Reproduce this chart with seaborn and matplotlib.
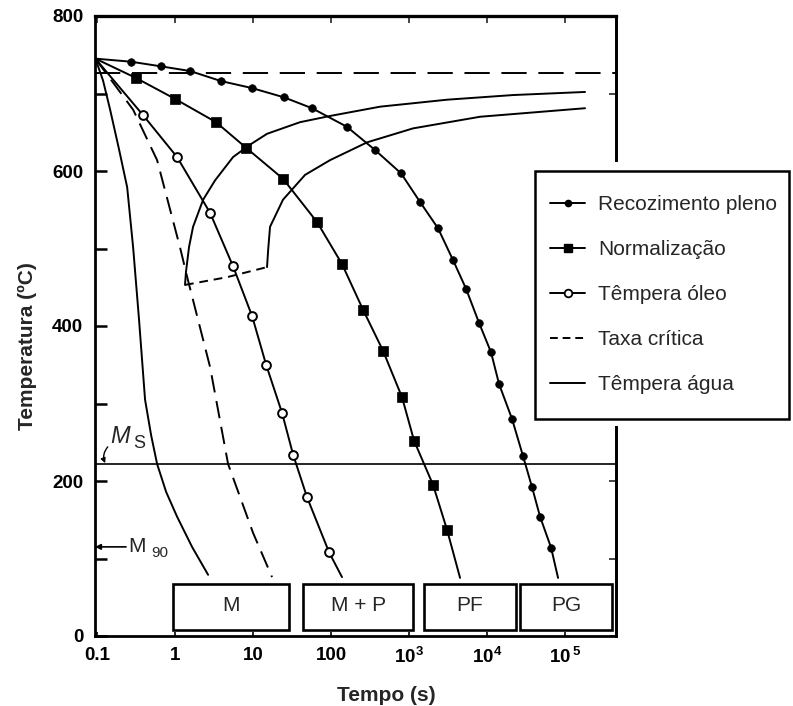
import matplotlib
matplotlib.use("Agg")
import matplotlib.pyplot as plt
import seaborn as sns
from matplotlib.lines import Line2D
from matplotlib.patches import Rectangle

# ---------------- data ----------------
# common austenitising point where every cooling curve begins
t_start = 0.095
T_start = 745

# full annealing (filled circles)
recoz_t = [0.273, 0.662, 1.56, 3.89, 9.7, 25, 57, 160, 367, 789, 1384, 2354, 3664,
           5380, 7894, 11250, 14260, 20920, 28950, 37750, 47800, 66200]
recoz_T = [741, 735, 729, 716, 707, 695, 681, 657, 627, 597, 560, 526, 485,
           448, 404, 366, 325, 280, 232, 192, 154, 114]
recoz_end = (81300, 75)

# normalising (filled squares)
norm_t = [0.316, 1.0, 3.35, 8.13, 24.2, 66.2, 138, 257, 464, 813, 1159, 2031, 3069]
norm_T = [720, 693, 663, 630, 590, 534, 480, 421, 368, 308, 252, 195, 137]
norm_end = (4505, 75)

# oil quench (open circles)
oleo_t = [0.389, 1.06, 2.81, 5.54, 9.7, 14.7, 23.5, 32.6, 49.2, 94.3]
oleo_T = [672, 618, 546, 477, 413, 350, 288, 234, 179, 108]
oleo_end = (138, 76)

# critical cooling rate (dashed)
crit_t = [0.290, 0.588, 1.16, 1.43, 2.81, 4.78, 10, 17.5]
crit_T = [679, 614, 501, 463, 347, 222, 133, 76]

# water quench (solid)
agua_t = [0.119, 0.147, 0.192, 0.243, 0.290, 0.345, 0.412, 0.493, 0.588, 0.767,
          1.06, 1.65, 2.65]
agua_T = [717, 679, 627, 579, 501, 408, 305, 259, 222, 186, 154, 115, 79]

# transformation start / finish curves and the lower dashed bound
cstart_t = [1.34, 1.38, 1.51, 1.70, 2.29, 3.26, 5.54, 9.15, 15.1, 40, 97, 425, 3069, 21500, 180400]
cstart_T = [453, 470, 502, 528, 563, 588, 618, 634, 648, 663, 671, 683, 692, 698, 702]
cend_t = [15.1, 15.6, 16.5, 24.2, 46.4, 97, 290, 1125, 8130, 180400]
cend_T = [476, 498, 528, 563, 595, 614, 637, 655, 670, 681]
cbot_t = [1.34, 4.64, 15.1]
cbot_T = [453, 463, 476]

# reference temperatures
T_A1 = 727
T_Ms = 222
T_M90 = 115

# microstructure boxes
box_labels = ["M", "M + P", "PF", "PG"]
box_left = [0.94, 43.8, 1556, 26500]
box_right = [29, 1125, 23540, 401000]
box_bottom = 8
box_top = 67

legend_labels = ["Recozimento pleno", "Normalização", "Têmpera óleo",
                 "Taxa crítica", "Têmpera água"]

x_ticks = [0.1, 1, 10, 100, 1e3, 1e4, 1e5]
x_ticklabels = ["0.1", "1", "10", "100", r"$\mathbf{10^{3}}$",
                r"$\mathbf{10^{4}}$", r"$\mathbf{10\,^{5}}$"]
y_major = [0, 200, 400, 600, 800]
y_minor = [100, 300, 500, 700]

# ---------------- style ----------------
sns.set_theme(style="white")
plt.rcParams["font.family"] = ["Liberation Sans", "DejaVu Sans"]
plt.rcParams["mathtext.fontset"] = "custom"
plt.rcParams["mathtext.rm"] = "Liberation Sans"
plt.rcParams["mathtext.it"] = "Liberation Sans:italic"
plt.rcParams["mathtext.bf"] = "Liberation Sans:bold"

W, H = 793, 706
fig = plt.figure(figsize=(W / 100, H / 100), dpi=100)
ax = fig.add_axes([95 / W, 70 / H, 521 / W, 620 / H])
ax.set_xscale("log")
ax.set_xlim(0.094, 4.5e5)
ax.set_ylim(0, 800)

LW = 1.4
K = "black"


def curve(ts, Ts, **kw):
    sns.lineplot(x=ts, y=Ts, sort=False, estimator=None, color=K,
                 linewidth=kw.pop("linewidth", LW), ax=ax, **kw)


# cooling curves
curve([t_start] + recoz_t + [recoz_end[0]], [T_start] + recoz_T + [recoz_end[1]])
curve([t_start] + norm_t + [norm_end[0]], [T_start] + norm_T + [norm_end[1]])
curve([t_start] + oleo_t + [oleo_end[0]], [T_start] + oleo_T + [oleo_end[1]])
curve([t_start] + crit_t, [T_start] + crit_T, linestyle=(0, (9, 4.5)))
curve([t_start] + agua_t, [T_start] + agua_T)

# transformation curves
curve(cstart_t, cstart_T)
curve(cend_t, cend_T)
curve(cbot_t, cbot_T, linestyle=(0, (4.5, 3)))

# markers
sns.scatterplot(x=recoz_t, y=recoz_T, marker="o", s=30, color=K, edgecolor=K,
                linewidth=0.5, zorder=4, ax=ax)
sns.scatterplot(x=norm_t, y=norm_T, marker="s", s=42, color=K, edgecolor=K,
                linewidth=0.5, zorder=4, ax=ax)
sns.scatterplot(x=oleo_t, y=oleo_T, marker="o", s=40, color="white", edgecolor=K,
                linewidth=1.4, zorder=4, ax=ax)

# reference lines
ax.axhline(T_A1, color=K, lw=LW, linestyle=(0, (13, 6)))
ax.axhline(T_Ms, color=K, lw=1.2)

# Ms and M90 labels
ax.text(0.148, T_Ms + 36, "M", fontsize=17, style="italic", ha="left", va="center")
ax.text(0.29, T_Ms + 27, "S", fontsize=13, ha="left", va="center")
ax.annotate("", xy=(0.127, T_Ms + 1), xytext=(0.137, T_Ms + 22),
            arrowprops=dict(arrowstyle="-|>", lw=1.0, color=K, mutation_scale=7,
                            shrinkA=0, shrinkB=0,
                            connectionstyle="arc3,rad=0.3"))
ax.annotate("", xy=(0.094, T_M90), xytext=(0.235, T_M90),
            arrowprops=dict(arrowstyle="-|>", lw=1.2, color=K, mutation_scale=8,
                            shrinkA=0, shrinkB=0))
ax.text(0.25, T_M90, "M", fontsize=15, ha="left", va="center")
ax.text(0.5, T_M90 - 8, "90", fontsize=11, ha="left", va="center")

# microstructure boxes
for lab, x0, x1 in zip(box_labels, box_left, box_right):
    ax.add_patch(Rectangle((x0, box_bottom), x1 - x0, box_top - box_bottom,
                           facecolor="white", edgecolor=K, lw=1.9, zorder=5))
    xc = (x0 * x1) ** 0.5
    ax.text(xc, (box_bottom + box_top) / 2 + 2, lab, fontsize=15,
            ha="center", va="center", zorder=6)

# axes, ticks and labels
for s in ax.spines.values():
    s.set_visible(True)
    s.set_color(K)
    s.set_linewidth(2.0)

ax.set_xticks(x_ticks)
ax.set_xticklabels(x_ticklabels)
ax.xaxis.set_minor_locator(matplotlib.ticker.NullLocator())
ax.set_yticks(y_major)
ax.set_yticks(y_minor, minor=True)
ax.tick_params(axis="y", which="both", direction="in", length=8.6, width=1.8,
               pad=8.5, left=True, labelsize=13.5, colors=K)
ax.tick_params(axis="x", which="both", direction="in", length=3, width=1.2,
               pad=8, bottom=True, labelsize=13.5, colors=K)
for lbl in ax.get_xticklabels() + ax.get_yticklabels():
    lbl.set_fontweight("bold")

top = ax.secondary_xaxis("top")
top.set_xticks(x_ticks)
top.xaxis.set_minor_locator(matplotlib.ticker.NullLocator())
top.tick_params(direction="in", length=5, width=1.2, labeltop=False, top=True)
top.spines["top"].set_linewidth(2.4)

right = ax.secondary_yaxis("right")
right.set_yticks(y_major + y_minor)
right.tick_params(direction="in", length=5, width=1.2, labelright=False, right=True)
right.spines["right"].set_linewidth(2.0)

ax.set_xlabel("Tempo (s)", fontsize=15, fontweight="bold")
ax.set_ylabel("Temperatura (ºC)", fontsize=15, fontweight="bold")
ax.xaxis.set_label_coords(0.56, -0.08)
ax.yaxis.set_label_coords(-0.112, 0.468)

# legend box, drawn over the right spine
fig.add_artist(Rectangle((530 / W, (H - 426) / H), (W - 530) / W, (426 - 162) / H,
                         transform=fig.transFigure, facecolor="white",
                         edgecolor="none", zorder=5))
fig.add_artist(Rectangle((535 / W, (H - 419) / H), (789 - 535) / W, (419 - 171) / H,
                         transform=fig.transFigure, facecolor="white",
                         edgecolor=K, lw=1.8, zorder=6))
handles = [
    Line2D([], [], color=K, lw=LW, marker="o", ms=4.5),
    Line2D([], [], color=K, lw=LW, marker="s", ms=5.5),
    Line2D([], [], color=K, lw=LW, marker="o", ms=5.5, mfc="white", mew=1.3),
    Line2D([], [], color=K, lw=LW, linestyle=(0, (4, 2.5))),
    Line2D([], [], color=K, lw=LW),
]
leg = fig.legend(handles, legend_labels, loc="upper left",
                 bbox_to_anchor=(550 / W, (H - 195) / H), frameon=False,
                 fontsize=15, handlelength=1.7, handletextpad=0.6,
                 labelspacing=1.25, borderpad=0, borderaxespad=0)
leg.set_zorder(7)

fig.savefig("out.png", dpi=100)
